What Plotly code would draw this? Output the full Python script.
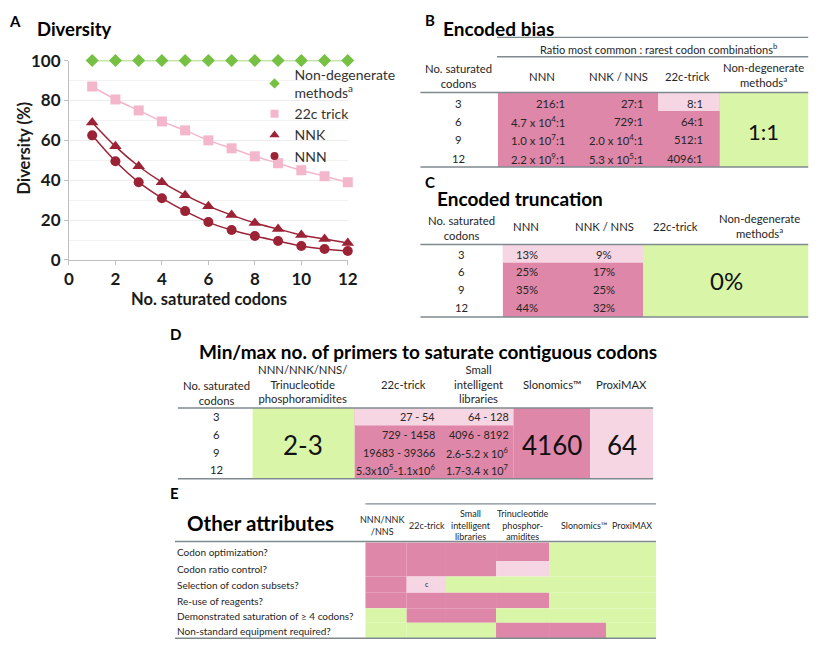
import plotly.graph_objects as go

W, H = 823, 650
OFF = 8  # page body margin of the exported html

# ---------------- data ----------------
codons = [1, 2, 3, 4, 5, 6, 7, 8, 9, 10, 11, 12]
div_nondeg = [100, 100, 100, 100, 100, 100, 100, 100, 100, 100, 100, 100]
div_22c = [87, 80.5, 75, 69.5, 65, 60, 56, 52, 48.5, 45, 42, 39]
div_nnk = [69, 57, 47, 39, 32.5, 27, 22.5, 18.5, 15.5, 12.5, 10.5, 8.5]
div_nnn = [62.5, 49.5, 39, 31, 24.5, 19, 15, 12, 9.5, 7, 5.5, 4.5]
x_ticks = [0, 2, 4, 6, 8, 10, 12]
y_ticks = [0, 20, 40, 60, 80, 100]

sat_rows = ["3", "6", "9", "12"]
bias_nnn = ["216:1", "4.7 x 10<sup>4</sup>:1", "1.0 x 10<sup>7</sup>:1", "2.2 x 10<sup>9</sup>:1"]
bias_nnk = ["27:1", "729:1", "2.0 x 10<sup>4</sup>:1", "5.3 x 10<sup>5</sup>:1"]
bias_22c = ["8:1", "64:1", "512:1", "4096:1"]
bias_nondeg = "1:1"

trunc_nnn = ["13%", "25%", "35%", "44%"]
trunc_nnk = ["9%", "17%", "25%", "32%"]
trunc_rest = "0%"

prim_22c = ["27 - 54", "729 - 1458", "19683 - 39366", "5.3x10<sup>5</sup>-1.1x10<sup>6</sup>"]
prim_small = ["64 - 128", "4096 - 8192", "2.6-5.2 x 10<sup>6</sup>", "1.7-3.4 x 10<sup>7</sup>"]
prim_degen = "2-3"
prim_slon = "4160"
prim_proxi = "64"

attr_methods = ["NNN/NNK<br>/NNS", "22c-trick", "Small<br>intelligent<br>libraries",
                "Trinucleotide<br>phosphor-<br>amidites", "Slonomics™", "ProxiMAX"]
attr_questions = ["Codon optimization?", "Codon ratio control?", "Selection of codon subsets?",
                  "Re-use of reagents?", "Demonstrated saturation of ≥ 4 codons?",
                  "Non-standard equipment required?"]
# D = unfavourable (dark pink), L = partial (light pink), G = favourable (green)
attr_grid = [
    ["D", "D", "D", "D", "G", "G"],
    ["D", "D", "D", "L", "G", "G"],
    ["D", "L", "G", "G", "G", "G"],
    ["D", "D", "D", "D", "G", "G"],
    ["G", "D", "D", "G", "G", "G"],
    ["G", "G", "G", "D", "D", "G"],
]

# ---------------- style ----------------
FONT = "Lato"
DARK = "#df87a8"
LIGHT = "#f7d6e3"
GREEN = "#d9f6a8"
LINE = "#7f8a8f"
TXT = "#262626"
cmap = {"D": DARK, "L": LIGHT, "G": GREEN}
TS = 11.3  # table font size

shapes = []
annotations = []


def px(x):
    return (x - OFF) / W


def py(y):
    return 1 - (y - OFF) / H


def rect(x0, y0, x1, y1, color):
    shapes.append(dict(type="rect", xref="paper", yref="paper", x0=px(x0), x1=px(x1),
                       y0=py(y1), y1=py(y0), fillcolor=color, line=dict(width=0), layer="below"))


def hline(x0, x1, y, width=1.5, color=LINE):
    shapes.append(dict(type="line", xref="paper", yref="paper", x0=px(x0), x1=px(x1),
                       y0=py(y), y1=py(y), line=dict(color=color, width=width)))


def text(x, y, s, size=TS, anchor="center", color=TXT, bold=False, angle=0):
    if bold:
        s = "<b>" + s + "</b>"
    annotations.append(dict(x=px(x), y=py(y), xref="paper", yref="paper", text=s,
                            showarrow=False, xanchor=anchor, yanchor="middle",
                            textangle=angle,
                            font=dict(family=FONT, size=size, color=color)))


fig = go.Figure()

# ---------------- Panel A ----------------
series = [
    ("Non-degenerate<br>methods<sup>a</sup>", div_nondeg, "#76c043", "#8ccc5a", "diamond", 10),
    ("22c trick", div_22c, "#f4b6cb", "#f4b6cb", "square", 10),
    ("NNK", div_nnk, "#9b2335", "#9b2335", "triangle-up", 11),
    ("NNN", div_nnn, "#9b2335", "#9b2335", "circle", 10),
]
for k, (name, vals, mc, lc, sym, sz) in enumerate(series):
    fig.add_trace(go.Scatter(
        x=codons, y=vals, name=name, mode="lines+markers", legendgroup=str(k),
        showlegend=False,
        line=dict(color=lc, width=1.5, shape="spline"),
        marker=dict(symbol=sym, size=sz, color=mc),
        cliponaxis=False))
    # legend entry (marker only, no data)
    fig.add_trace(go.Scatter(
        x=[None], y=[None], name=name, mode="markers", legendgroup=str(k),
        marker=dict(symbol=sym, size=sz - 2, color=mc)))

fig.update_layout(
    xaxis=dict(domain=[px(65), px(349)], range=[0, 12], tickvals=x_ticks,
               tickfont=dict(family=FONT, size=17, color="#1a1a1a", weight="bold"),
               showline=True, linecolor="#bfbfbf", linewidth=1,
               ticks="outside", ticklen=4, tickcolor="#bfbfbf",
               showgrid=False, zeroline=False, fixedrange=True),
    yaxis=dict(domain=[py(257), py(51)], range=[0, 100], tickvals=y_ticks,
               tickfont=dict(family=FONT, size=17, color="#1a1a1a", weight="bold"),
               showline=True, linecolor="#bfbfbf", linewidth=1,
               ticks="outside", ticklen=4, tickcolor="#bfbfbf",
               showgrid=True, gridcolor="#ececec", gridwidth=1,
               minor=dict(dtick=10, showgrid=True, gridcolor="#f2f2f2"),
               zeroline=False, fixedrange=True),
)

text(2, 10, "A", 15, "left", "#000", True)
text(30, 18, "Diversity", 18.5, "left", "#000", True)
text(208, 297, "No. saturated codons", 16.5, "center", "#1a1a1a", True)
text(19, 142, "Diversity (%)", 16.5, "center", "#1a1a1a", True, angle=-90)

# ---------------- Panel B ----------------
text(426, 9, "B", 15, "left", "#000", True)
text(444, 18, "Encoded bias", 19, "left", "#000", True)
hline(501, 818, 27, 1.2)
text(665, 38, "Ratio most common : rarest codon combinations<sup>b</sup>", 11)
hline(501, 818, 47, 1.5)
text(462, 67, "No. saturated<br>codons", TS)
text(547, 67, "NNN", TS)
text(625, 67, "NNK / NNS", TS)
text(695, 67, "22c-trick", TS)
text(772, 66, "Non-degenerate<br>methods<sup>a</sup>", TS)
b_rows = [95, 114, 133, 152]
rect(502, 84, 728, 161, DARK)
rect(665, 84, 728, 103, LIGHT)
rect(728, 84, 818, 161, GREEN)
for i, r in enumerate(sat_rows):
    yy = b_rows[i]
    text(462, yy, r, TS)
    text(572, yy, bias_nnn[i], TS, "right")
    text(652, yy, bias_nnk[i], TS, "right")
    text(713, yy, bias_22c[i], TS, "right")
text(772, 124, bias_nondeg, 22, "center", "#111")
hline(423, 818, 84, 1.5)
hline(423, 818, 161, 1.5)

# ---------------- Panel C ----------------
text(426, 176, "C", 15, "left", "#000", True)
text(438, 193, "Encoded truncation", 19, "left", "#000", True)
text(465, 224, "No. saturated<br>codons", TS)
text(531, 222, "NNN", TS)
text(610, 222, "NNK / NNS", TS)
text(683, 222, "22c-trick", TS)
text(768, 222, "Non-degenerate<br>methods<sup>a</sup>", TS)
c_rows = [251, 269, 288, 306]
rect(507, 241, 650, 316, DARK)
rect(507, 241, 650, 260, LIGHT)
rect(650, 241, 818, 316, GREEN)
for i, r in enumerate(sat_rows):
    yy = c_rows[i]
    text(465, yy, r, TS)
    text(532, yy, trunc_nnn[i], TS)
    text(610, yy, trunc_nnk[i], TS)
text(735, 278, trunc_rest, 24, "center", "#111")
hline(423, 818, 241, 1.5)
hline(423, 818, 316, 1.5)

# ---------------- Panel D ----------------
text(166, 334, "D", 15, "left", "#000", True)
text(195, 352, "Min/max no. of primers to saturate contiguous codons", 19, "left", "#000", True)
text(215, 395, "No. saturated<br>codons", TS)
text(303, 385, "NNN/NNK/NNS/<br>Trinucleotide<br>phosphoramidites", TS)
text(406, 386, "22c-trick", TS)
text(482, 385, "Small<br>intelligent<br>libraries", TS)
text(557, 386, "Slonomics™", TS)
text(628, 386, "ProxiMAX", TS)
d_rows = [419, 437, 456, 474]
rect(252, 410, 356, 483, GREEN)
rect(356, 410, 518, 483, DARK)
rect(356, 410, 518, 428, LIGHT)
rect(518, 410, 596, 483, DARK)
rect(596, 410, 660, 483, LIGHT)
for i, r in enumerate(sat_rows):
    yy = d_rows[i]
    text(215, yy, r, TS)
    text(440, yy, prim_22c[i], 10.8, "right")
    text(515, yy, prim_small[i], 10.8, "right")
text(303, 448, prim_degen, 26, "center", "#111")
text(557, 448, prim_slon, 26, "center", "#111")
text(628, 448, prim_proxi, 26, "center", "#111")
hline(176, 660, 410, 1.5)
hline(176, 660, 483, 1.5)

# ---------------- Panel E ----------------
text(166, 498, "E", 15, "left", "#000", True)
text(183, 529, "Other attributes", 20.5, "left", "#000", True)
e_cols = [367, 409, 449, 500, 554, 612, 663]
e_centers = [384, 430, 474, 527, 590, 638]
e_rows = [549, 568, 584, 601, 617, 632, 648]
for j, m in enumerate(attr_methods):
    text(e_centers[j], 531, m, 9)
for i, q in enumerate(attr_questions):
    y0, y1 = e_rows[i], e_rows[i + 1]
    text(173, (y0 + y1) / 2, q, 10, "left")
    for j in range(6):
        rect(e_cols[j], y0, e_cols[j + 1], y1, cmap[attr_grid[i][j]])
text(430, 592, "c", 7.5)
hline(367, 663, 509, 1.2)
hline(173, 663, 548, 1.5)
hline(173, 663, 648, 1.5)

fig.update_layout(
    width=W, height=H, margin=dict(l=0, r=0, t=0, b=0),
    paper_bgcolor="white", plot_bgcolor="white",
    font=dict(family=FONT, color=TXT),
    shapes=shapes, annotations=annotations,
    showlegend=True,
    legend=dict(x=px(254), y=py(49), xanchor="left", yanchor="top",
                bgcolor="rgba(0,0,0,0)", font=dict(family=FONT, size=14, color="#333"),
                tracegroupgap=0, itemwidth=30),
)

fig.write_html("out.html")
